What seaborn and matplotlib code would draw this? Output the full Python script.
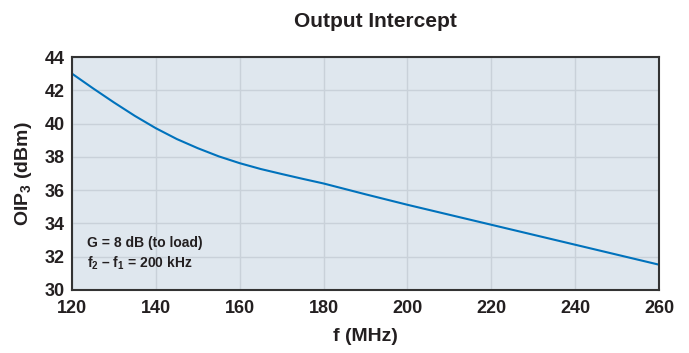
import matplotlib
matplotlib.use("Agg")
import matplotlib.pyplot as plt
import seaborn as sns
import pandas as pd

# values
freq_mhz = [120, 125, 130, 135, 140, 145, 150, 155, 160, 165, 170, 175, 180,
            190, 200, 210, 220, 230, 240, 250, 260]
oip3_dbm = [43.0, 42.12, 41.27, 40.46, 39.72, 39.07, 38.52, 38.03, 37.62, 37.27, 36.97, 36.68, 36.4,
            35.75, 35.12, 34.52, 33.92, 33.32, 32.72, 32.12, 31.52]
x_ticks = [120, 140, 160, 180, 200, 220, 240, 260]
y_ticks = [30, 32, 34, 36, 38, 40, 42, 44]

df = pd.DataFrame({"f": freq_mhz, "oip3": oip3_dbm})

sns.set_style("whitegrid")
plt.rcParams['font.family'] = ['Liberation Sans', 'DejaVu Sans']
plt.rcParams['mathtext.fontset'] = 'custom'
plt.rcParams['mathtext.rm'] = 'Liberation Sans:bold'
plt.rcParams['mathtext.it'] = 'Liberation Sans:bold'
plt.rcParams['mathtext.bf'] = 'Liberation Sans:bold'

txt = '#231f20'
fig = plt.figure(figsize=(6.89, 3.53), dpi=100)
ax = fig.add_axes([0.1045, 0.1785, 0.852, 0.66])
ax.set_facecolor('#dfe7ee')

sns.lineplot(data=df, x="f", y="oip3", ax=ax, color='#0072bc', linewidth=1.5)

ax.set_xlim(120, 260)
ax.set_ylim(30, 44)
ax.set_xticks(x_ticks)
ax.set_yticks(y_ticks)
ax.grid(True, color='#c9d1d9', linewidth=1)
for s in ax.spines.values():
    s.set_color('#333333')
    s.set_linewidth(1.5)
ax.tick_params(axis='x', length=0, labelsize=13, colors=txt, pad=7)
ax.tick_params(axis='y', length=0, labelsize=13, colors=txt, pad=5)
for lab in ax.get_xticklabels() + ax.get_yticklabels():
    lab.set_fontweight('bold')

ax.set_xlabel('f (MHz)', fontsize=14, fontweight='bold', color=txt, labelpad=8)
ax.set_ylabel('OIP$_3$ (dBm)', fontsize=14, fontweight='bold', color=txt, labelpad=8)
fig.suptitle('Output Intercept', x=0.545, y=0.965, fontsize=15, fontweight='bold', color=txt)

ax.text(0.025, 0.20, 'G = 8 dB (to load)', transform=ax.transAxes, fontsize=10,
        fontweight='bold', color=txt, va='center')
ax.text(0.025, 0.115, 'f$_2$ – f$_1$ = 200 kHz', transform=ax.transAxes, fontsize=10,
        fontweight='bold', color=txt, va='center')

fig.savefig('out.png', dpi=100)
